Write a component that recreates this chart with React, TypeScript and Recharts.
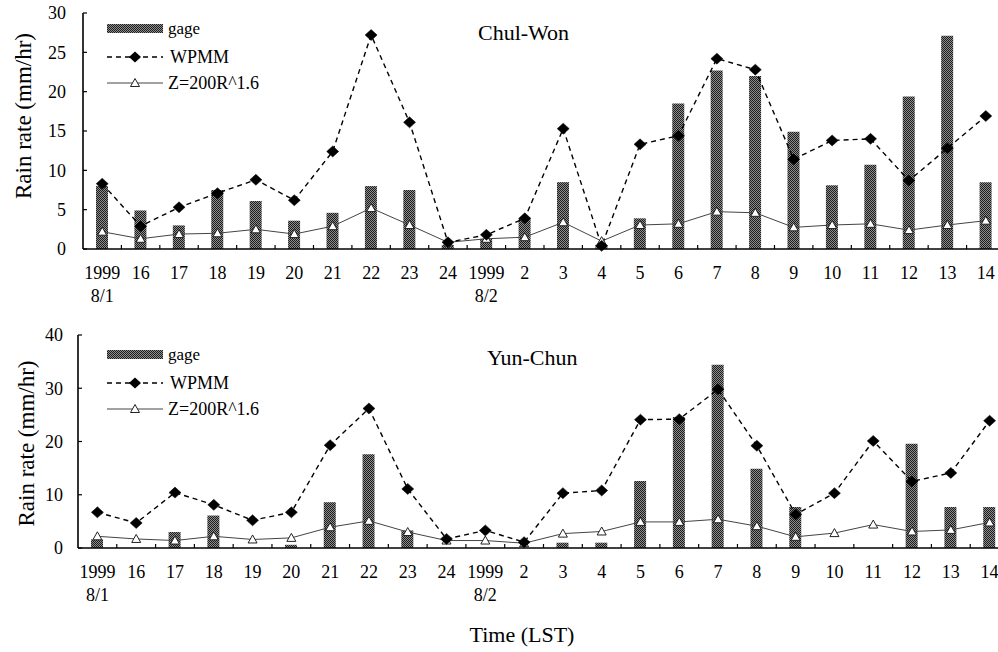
import React from 'react';
import { ComposedChart, Bar, Line, XAxis, YAxis, Legend } from 'recharts';

// ---- categories / tick labels ----
const timeLabels = ['1999', '16', '17', '18', '19', '20', '21', '22', '23', '24', '1999', '2', '3', '4', '5', '6', '7', '8', '9', '10', '11', '12', '13', '14'];
const dateLabels = ['8/1', '', '', '', '', '', '', '', '', '', '8/2', '', '', '', '', '', '', '', '', '', '', '', '', ''];

// ---- Chul-Won ----
const gageCW = [8.0, 4.9, 3.0, 7.5, 6.1, 3.6, 4.6, 8.0, 7.5, 0.5, 1.3, 3.9, 8.5, 0.5, 3.9, 18.5, 22.7, 22.0, 14.9, 8.1, 10.7, 19.4, 27.1, 8.5];
const wpmmCW = [8.3, 2.9, 5.3, 7.1, 8.8, 6.2, 12.4, 27.2, 16.1, 0.85, 1.8, 3.9, 15.3, 0.4, 13.3, 14.4, 24.2, 22.8, 11.4, 13.8, 14.0, 8.7, 12.8, 16.9];
const zCW = [2.2, 1.3, 1.9, 2.0, 2.5, 1.9, 2.9, 5.2, 3.05, 0.85, 1.3, 1.5, 3.4, 1.0, 3.05, 3.2, 4.75, 4.6, 2.75, 3.05, 3.2, 2.4, 3.05, 3.6];

// ---- Yun-Chun ----
const gageYC = [1.6, 0, 3.0, 6.1, 0, 0.6, 8.6, 17.6, 3.3, 0, 0, 0, 1.0, 1.0, 12.6, 24.6, 34.4, 14.9, 7.7, 0, 0, 19.6, 7.7, 7.7];
const wpmmYC = [6.7, 4.7, 10.4, 8.1, 5.2, 6.7, 19.3, 26.2, 11.1, 1.7, 3.3, 1.1, 10.3, 10.8, 24.1, 24.2, 29.8, 19.2, 6.3, 10.3, 20.1, 12.5, 14.1, 23.9];
const zYC = [2.2, 1.7, 1.4, 2.2, 1.6, 1.9, 3.9, 5.1, 3.0, 1.4, 1.4, 0.9, 2.7, 3.1, 4.9, 4.9, 5.4, 4.1, 2.1, 2.8, 4.4, 3.1, 3.4, 4.8];

const ticksCW = [0, 5, 10, 15, 20, 25, 30];
const ticksYC = [0, 10, 20, 30, 40];

const FONT = '"Liberation Serif", "Times New Roman", serif';

const build = (g: number[], w: number[], z: number[]) =>
  timeLabels.map((t, i) => ({ key: i, time: t, gage: g[i], wpmm: w[i], z: z[i] }));

const dataCW = build(gageCW, wpmmCW, zCW);
const dataYC = build(gageYC, wpmmYC, zYC);

const Diamond = (props: any) => {
  const { cx, cy, index } = props;
  if (cx == null || cy == null) return <g key={`d${index}`} />;
  return (
    <path key={`d${index}`} d={`M${cx},${cy - 5.5} L${cx + 6},${cy} L${cx},${cy + 5.5} L${cx - 6},${cy} Z`} fill="#000" stroke="#000" strokeWidth={0.5} />
  );
};

const Triangle = (props: any) => {
  const { cx, cy, index } = props;
  if (cx == null || cy == null) return <g key={`t${index}`} />;
  return (
    <path key={`t${index}`} d={`M${cx},${cy - 4.5} L${cx + 4.5},${cy + 3.5} L${cx - 4.5},${cy + 3.5} Z`} fill="#fff" stroke="#222" strokeWidth={1} />
  );
};

const makeXTick = (half: number) => (props: any) => {
  const { x, y, payload } = props;
  const i = payload.index;
  return (
    <g>
      <line x1={x + half} x2={x + half} y1={y} y2={y - 4} stroke="#000" strokeWidth={1.2} />
      <text x={x} y={y + 30} textAnchor="middle" fontFamily={FONT} fontSize={18} fill="#000">{timeLabels[i]}</text>
      {dateLabels[i] ? (
        <text x={x} y={y + 53} textAnchor="middle" fontFamily={FONT} fontSize={18} fill="#000">{dateLabels[i]}</text>
      ) : null}
    </g>
  );
};

const makeYTick = (gap: number) => (props: any) => {
  const { x, y, payload } = props;
  return (
    <g>
      <line x1={x} x2={x + 4} y1={y} y2={y} stroke="#000" strokeWidth={1.2} />
      <text x={x - gap} y={y} dy="0.35em" textAnchor="end" fontFamily={FONT} fontSize={18} fill="#000">{payload.value}</text>
    </g>
  );
};

const makeYLabel = (dx: number, dy: number) => (props: any) => {
  const vb = props.viewBox || { x: 0, y: 0, width: 0, height: 0 };
  const cx = dx;
  const cy = vb.y + vb.height / 2 + dy;
  return (
    <text x={cx} y={cy} transform={`rotate(-90, ${cx}, ${cy})`} textAnchor="middle" fontFamily={FONT} fontSize={23} fill="#000">
      Rain rate (mm/hr)
    </text>
  );
};

const makeLegend = (pid: string) => () => (
  <svg width={150} height={80} style={{ display: 'block', overflow: 'visible' }}>
    <rect x={7} y={6} width={56} height={9} fill={`url(#${pid})`} />
    <text x={68} y={16} fontFamily={FONT} fontSize={17} fill="#000">gage</text>
    <line x1={7} x2={63} y1={39} y2={39} stroke="#000" strokeWidth={1.4} strokeDasharray="5 4" />
    <path d={`M35,33.5 L41,39 L35,44.5 L29,39 Z`} fill="#000" />
    <text x={70} y={45} fontFamily={FONT} fontSize={18} fill="#000">WPMM</text>
    <line x1={7} x2={63} y1={65} y2={65} stroke="#444" strokeWidth={1} />
    <path d={`M35,60.5 L39.5,68.5 L30.5,68.5 Z`} fill="#fff" stroke="#222" strokeWidth={1} />
    <text x={68} y={71} fontFamily={FONT} fontSize={18} fill="#000">Z=200R^1.6</text>
  </svg>
);

const Pattern = ({ id }: { id: string }) => (
  <defs>
    <pattern id={id} width={2} height={2} patternUnits="userSpaceOnUse">
      <rect width={2} height={2} fill="#8e8e8e" />
      <rect x={0} y={0} width={1} height={1} fill="#1c1c1c" />
      <rect x={1} y={1} width={1} height={1} fill="#1c1c1c" />
    </pattern>
  </defs>
);

interface PanelProps {
  data: any[];
  width: number;
  height: number;
  yWidth: number;
  top: number;
  bottomMargin: number;
  rightMargin: number;
  domainMax: number;
  ticks: number[];
  half: number;
  pid: string;
  legendTop: number;
  labelX: number;
  labelDy: number;
  tickGap: number;
}

const Panel = (p: PanelProps) => (
  <ComposedChart
    width={p.width}
    height={p.height}
    data={p.data}
    margin={{ top: p.top, right: p.rightMargin, left: 0, bottom: p.bottomMargin }}
    barCategoryGap={0}
  >
    <Pattern id={p.pid} />
    <XAxis
      dataKey="key"
      type="category"
      interval={0}
      height={61}
      tickSize={0}
      tickMargin={0}
      tickLine={false}
      axisLine={{ stroke: '#000', strokeWidth: 1.6 }}
      tick={makeXTick(p.half)}
    />
    <XAxis
      xAxisId="top"
      dataKey="key"
      type="category"
      orientation="top"
      height={0}
      tick={false}
      tickLine={false}
      axisLine={{ stroke: '#000', strokeWidth: 1.6 }}
    />
    <YAxis
      type="number"
      domain={[0, p.domainMax]}
      ticks={p.ticks}
      interval={0}
      width={p.yWidth}
      tickSize={0}
      tickMargin={0}
      tickLine={false}
      axisLine={{ stroke: '#000', strokeWidth: 1.6 }}
      tick={makeYTick(p.tickGap)}
      label={makeYLabel(p.labelX, p.labelDy) as any}
    />
    <Legend
      layout="vertical"
      align="center"
      verticalAlign="middle"
      content={makeLegend(p.pid)}
      wrapperStyle={{ left: 100, top: p.legendTop, width: 150, height: 80 }}
    />
    <Bar dataKey="gage" barSize={12} fill={`url(#${p.pid})`} isAnimationActive={false} />
    <Line
      dataKey="z"
      stroke="#444"
      strokeWidth={1}
      dot={Triangle}
      activeDot={false}
      isAnimationActive={false}
      type="linear"
    />
    <Line
      dataKey="wpmm"
      stroke="#000"
      strokeWidth={1.4}
      strokeDasharray="5 4"
      dot={Diamond}
      activeDot={false}
      isAnimationActive={false}
      type="linear"
    />
  </ComposedChart>
);

export default function App() {
  return (
    <div
      style={{
        position: 'absolute',
        left: 0,
        top: 0,
        width: 998,
        height: 652,
        overflow: 'hidden',
        background: '#fff',
        fontFamily: FONT,
      }}
    >
      <div style={{ position: 'absolute', left: 0, top: 0 }}>
        <Panel
          data={dataCW}
          width={1010}
          height={310}
          yWidth={83}
          top={13}
          bottomMargin={0}
          rightMargin={5}
          domainMax={30}
          ticks={ticksCW}
          half={19.2}
          pid="stipA"
          legendTop={18}
          labelX={31}
          labelDy={-15}
          tickGap={17}
        />
      </div>
      <div style={{ position: 'absolute', left: 0, top: 320 }}>
        <Panel
          data={dataYC}
          width={1015}
          height={332}
          yWidth={78}
          top={15}
          bottomMargin={43}
          rightMargin={6}
          domainMax={40}
          ticks={ticksYC}
          half={19.4}
          pid="stipB"
          legendTop={24}
          labelX={34}
          labelDy={2}
          tickGap={15}
        />
      </div>
      <svg width={998} height={652} style={{ position: 'absolute', left: 0, top: 0, pointerEvents: 'none' }}>
        <text x={478} y={40} fontFamily={FONT} fontSize={22} fill="#000">Chul-Won</text>
        <text x={487} y={365} fontFamily={FONT} fontSize={22} fill="#000">Yun-Chun</text>
        <text x={522} y={642} textAnchor="middle" fontFamily={FONT} fontSize={22} fill="#000">Time (LST)</text>
      </svg>
    </div>
  );
}
